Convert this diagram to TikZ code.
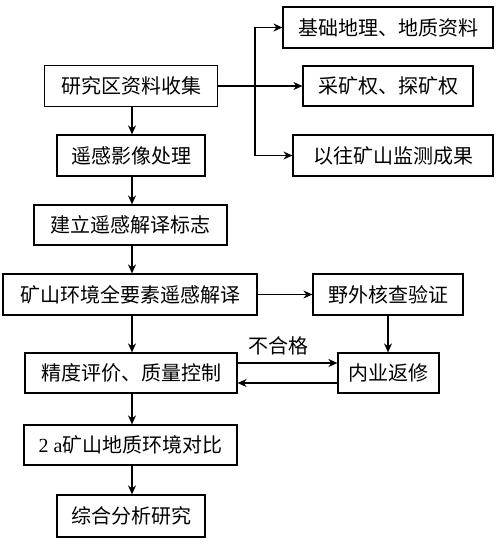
\documentclass[tikz,border=0pt]{standalone}
\usepackage{fontspec}
\setmainfont{Liberation Serif}
\newfontfamily\cjk{Noto Sans CJK SC}
\usetikzlibrary{arrows.meta}
\begin{document}
\begin{tikzpicture}[x=1pt,y=-1pt,
  box/.style={draw=black,line width=1.2pt,inner sep=0pt,font=\fontsize{20}{24}\selectfont\cjk},
  arr/.style={line width=1.2pt,-{Stealth[length=9pt,width=8pt]}},
  lbl/.style={inner sep=0pt,font=\fontsize{20}{24}\selectfont\cjk}]
\useasboundingbox (0,0) rectangle (499,545);
\node[box,minimum width=173pt,minimum height=41pt] (b1) at (131,86) {研究区资料收集};
\node[box,minimum width=210pt,minimum height=41pt] (r1) at (388,27.5) {基础地理、地质资料};
\node[box,minimum width=170pt,minimum height=40pt] (r2) at (388,86) {采矿权、探矿权};
\node[box,minimum width=200pt,minimum height=41pt] (r3) at (393,155.5) {以往矿山监测成果};
\node[box,minimum width=148pt,minimum height=41pt] (b2) at (131,155.5) {遥感影像处理};
\node[box,minimum width=193pt,minimum height=40pt] (b3) at (130.5,225) {建立遥感解译标志};
\node[box,minimum width=254pt,minimum height=41pt] (b4) at (130,294.5) {矿山环境全要素遥感解译};
\node[box,minimum width=150pt,minimum height=41pt] (f) at (388,294.5) {野外核查验证};
\node[box,minimum width=212pt,minimum height=40pt] (b5) at (131,373) {精度评价、质量控制};
\node[box,minimum width=101pt,minimum height=40pt] (n) at (388.5,373) {内业返修};
\node[box,minimum width=213pt,minimum height=40pt] (b6) at (130.5,445) {\rmfamily 2 a{\cjk 矿山地质环境对比}};
\node[box,minimum width=148pt,minimum height=42pt] (b7) at (131,516) {综合分析研究};
\node[lbl] (ng) at (278,346) {不合格};
\coordinate (br) at (255,86);
\coordinate (cx) at (132,0);
% branches
\draw[arr] (b1.east) -- (r2.west);
\draw[arr] (br) |- (r1.west);
\draw[arr] (br) |- (r3.west);
% main column
\draw[arr] (cx |- b1.south) -- (cx |- b2.north);
\draw[arr] (cx |- b2.south) -- (cx |- b3.north);
\draw[arr] (cx |- b3.south) -- (cx |- b4.north);
\draw[arr] (cx |- b4.south) -- (cx |- b5.north);
\draw[arr] (cx |- b5.south) -- (cx |- b6.north);
\draw[arr] (cx |- b6.south) -- (cx |- b7.north);
% right side
\draw[arr] (b4.east) -- (f.west);
\draw[arr] (f.south) -- (f.south |- n.north);
\draw[arr] ([yshift=10pt]b5.east) -- ([yshift=10pt]b5.east -| n.west);
\draw[arr] ([yshift=-10pt]n.west) -- ([yshift=-10pt]n.west -| b5.east);
\end{tikzpicture}
\end{document}
